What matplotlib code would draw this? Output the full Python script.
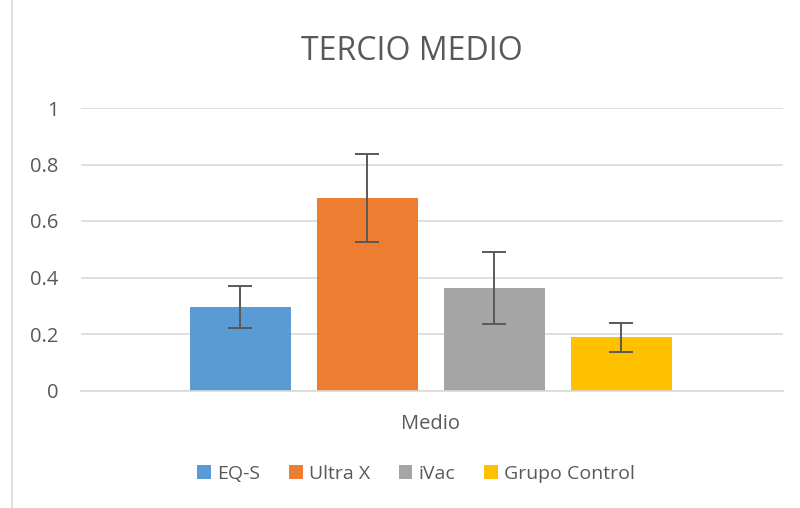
import matplotlib
matplotlib.use("Agg")
import matplotlib.pyplot as plt
from matplotlib.lines import Line2D
from matplotlib.patches import Patch

# ── Data ──────────────────────────────────────────────────────────────
SERIES = ["EQ-S", "Ultra X", "iVac", "Grupo Control"]
VALUES = [0.296, 0.681, 0.363, 0.189]
ERRORS = [0.073, 0.155, 0.128, 0.051]
COLORS = ["#5B9BD5", "#ED7D31", "#A5A5A5", "#FFC000"]
CATEGORY = "Medio"
YTICKS = [0, 0.2, 0.4, 0.6, 0.8, 1]
YTICK_LABELS = ["0", "0.2", "0.4", "0.6", "0.8", "1"]

TEXT = "#595959"
GRID = "#D9D9D9"
FONT = ["Open Sans", "DejaVu Sans"]

plt.rcParams["font.family"] = FONT

fig = plt.figure(figsize=(8, 5.08), dpi=100)
ax = fig.add_axes([81 / 800, 1 - 390.5 / 508, 702 / 800, 282.5 / 508])

x = list(range(len(SERIES)))
ax.bar(x, VALUES, width=0.795, color=COLORS, zorder=2)
ax.errorbar(x, VALUES, yerr=ERRORS, fmt="none", ecolor=TEXT, elinewidth=1.4,
            capsize=8.6, capthick=1.4, zorder=3)

ax.set_xlim(-1.256, 4.272)
ax.set_ylim(0, 1)
ax.set_yticks(YTICKS)
ax.set_yticklabels(YTICK_LABELS)
ax.set_xticks([1.5])
ax.set_xticklabels([CATEGORY])
ax.tick_params(axis="both", length=0, colors=TEXT, labelsize=14.5)
ax.tick_params(axis="y", pad=16)
ax.tick_params(axis="x", pad=17)
ax.yaxis.grid(True, color=GRID, linewidth=1.2, zorder=0)
ax.set_axisbelow(True)
for s in ["top", "right", "left"]:
    ax.spines[s].set_visible(False)
ax.spines["bottom"].set_color(GRID)
ax.spines["bottom"].set_linewidth(1.2)

fig.text(412 / 800, 1 - 52 / 508, "TERCIO MEDIO", ha="center", va="center",
         fontsize=23, color=TEXT)

handles = [Patch(facecolor=c, edgecolor="none") for c in COLORS]
leg = fig.legend(handles, SERIES, loc="center", bbox_to_anchor=(416 / 800, 1 - 474 / 508),
                 ncol=4, frameon=False, fontsize=14, handlelength=0.7, handleheight=0.7,
                 handletextpad=0.3, columnspacing=1.5)
for t in leg.get_texts():
    t.set_color(TEXT)

# left border of chart area
fig.add_artist(Line2D([11.5 / 800, 11.5 / 800], [0, 1], color=GRID, linewidth=1.2))

fig.savefig("out.png", dpi=100)
